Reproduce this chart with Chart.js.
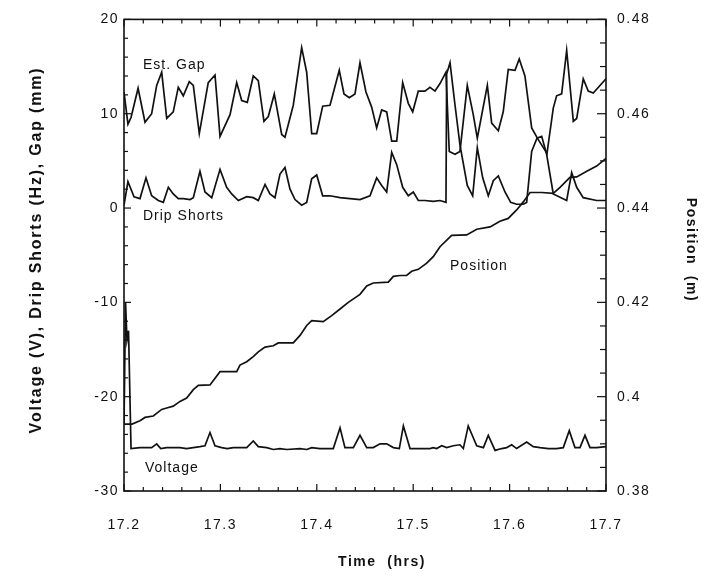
<!DOCTYPE html>
<html>
<head>
<meta charset="utf-8">
<script src="https://cdn.jsdelivr.net/npm/chart.js@4.4.1/dist/chart.umd.min.js"></script>
<style>
  body { margin: 0; background: #fff; }
  #wrap { width: 706px; height: 579px; }
</style>
</head>
<body>
<div id="wrap"><canvas id="chart" width="706" height="579"></canvas></div>
<script>
// values (time in hours)
const gapTime = [17.2000,17.2041,17.2073,17.2146,17.2218,17.2287,17.2339,17.2391,17.2443,17.2511,17.2563,17.2615,17.2677,17.2719,17.2781,17.2874,17.2944,17.2996,17.3100,17.3169,17.3221,17.3279,17.3341,17.3393,17.3452,17.3497,17.3559,17.3636,17.3670,17.3756,17.3843,17.3895,17.3947,17.3999,17.4061,17.4137,17.4233,17.4282,17.4337,17.4396,17.4448,17.4510,17.4569,17.4621,17.4673,17.4725,17.4777,17.4829,17.4891,17.4949,17.4995,17.5053,17.5122,17.5174,17.5226,17.5278,17.5340,17.5374,17.5434,17.5485,17.5561,17.5623,17.5665,17.5769,17.5814,17.5883,17.5934,17.5986,17.6056,17.6100,17.6159,17.6229,17.6294,17.6388,17.6453,17.6488,17.6540,17.6592,17.6661,17.6696,17.6764,17.6816,17.6868,17.7000];
const gapValue = [12.3,8.9,9.6,12.7,9.1,10.0,13.0,14.4,9.5,10.2,12.8,11.9,13.4,13.0,7.9,13.3,14.1,7.6,9.9,13.3,11.4,11.2,14.0,13.5,9.2,9.7,12.1,7.8,7.5,10.9,17.0,14.4,7.9,7.9,10.8,10.9,14.6,12.1,11.7,12.1,15.4,12.3,10.7,8.5,10.4,10.2,7.1,7.1,13.3,11.1,10.2,12.4,12.4,12.8,12.4,13.2,14.4,6.0,5.7,6.0,13.0,9.9,7.4,13.0,9.0,8.2,10.2,14.7,14.6,15.8,14.0,8.5,7.3,5.8,10.6,11.9,12.1,16.7,9.2,9.5,13.7,12.4,12.2,13.7];

const dripTime = [17.2000,17.2041,17.2104,17.2166,17.2228,17.2287,17.2356,17.2408,17.2460,17.2511,17.2563,17.2615,17.2685,17.2719,17.2788,17.2840,17.2910,17.2996,17.3065,17.3117,17.3186,17.3273,17.3341,17.3393,17.3463,17.3514,17.3566,17.3618,17.3670,17.3722,17.3774,17.3843,17.3895,17.3947,17.3999,17.4061,17.4137,17.4241,17.4344,17.4448,17.4552,17.4621,17.4673,17.4725,17.4777,17.4829,17.4891,17.4949,17.5001,17.5053,17.5122,17.5208,17.5278,17.5340,17.5347,17.5382,17.5434,17.5485,17.5561,17.5617,17.5665,17.5721,17.5779,17.5831,17.5883,17.5952,17.6011,17.6073,17.6142,17.6177,17.6229,17.6284,17.6333,17.6384,17.6453,17.6592,17.6644,17.6696,17.6764,17.6903,17.7000];
const dripValue = [0.3,2.8,1.2,1.0,3.2,1.3,0.8,0.6,2.2,1.5,1.0,1.0,0.9,1.1,3.9,1.7,1.1,4.1,2.2,1.5,0.8,1.2,1.1,0.8,2.5,1.5,1.1,3.6,4.3,2.0,0.9,0.3,0.6,3.1,3.5,1.3,1.3,1.1,1.0,0.9,1.3,3.2,2.4,1.7,5.9,4.6,2.2,1.3,1.7,0.8,0.8,0.7,0.8,0.6,14.2,15.4,10.9,6.7,2.4,1.3,6.4,3.2,1.3,2.9,3.4,1.7,0.6,0.4,0.4,0.6,6.0,7.4,7.6,5.7,1.5,0.8,3.75,2.2,1.1,0.8,0.8];

const positionTime = [17.2000,17.2083,17.2166,17.2218,17.2304,17.2391,17.2443,17.2511,17.2581,17.2650,17.2719,17.2771,17.2892,17.2996,17.3169,17.3203,17.3273,17.3341,17.3393,17.3463,17.3549,17.3601,17.3756,17.3826,17.3895,17.3947,17.4067,17.4154,17.4241,17.4327,17.4448,17.4518,17.4586,17.4742,17.4794,17.4863,17.4932,17.4984,17.5053,17.5140,17.5208,17.5278,17.5399,17.5555,17.5659,17.5797,17.5900,17.5986,17.6073,17.6142,17.6212,17.6333,17.6453,17.6523,17.6626,17.6696,17.6800,17.6903,17.7000];
const positionValue = [0.3942,0.3942,0.3949,0.3956,0.3959,0.3973,0.3976,0.3980,0.3990,0.3997,0.4015,0.4024,0.4025,0.4053,0.4053,0.4067,0.4074,0.4085,0.4095,0.4105,0.4108,0.4114,0.4114,0.4130,0.4151,0.4161,0.4159,0.4172,0.4186,0.4200,0.4217,0.4235,0.4241,0.4243,0.4255,0.4257,0.4257,0.4266,0.4270,0.4283,0.4297,0.4318,0.4342,0.4343,0.4355,0.4360,0.4372,0.4378,0.4396,0.4413,0.4433,0.4433,0.4431,0.4444,0.4465,0.4466,0.4478,0.4489,0.4505];

const voltageTime = [17.2000,17.2016,17.2031,17.2047,17.2073,17.2166,17.2287,17.2339,17.2381,17.2443,17.2511,17.2581,17.2650,17.2719,17.2788,17.2840,17.2892,17.2944,17.3013,17.3071,17.3134,17.3203,17.3273,17.3341,17.3393,17.3480,17.3549,17.3618,17.3688,17.3826,17.3895,17.3947,17.4033,17.4171,17.4241,17.4292,17.4379,17.4448,17.4518,17.4586,17.4656,17.4725,17.4794,17.4856,17.4898,17.4967,17.5174,17.5208,17.5243,17.5296,17.5347,17.5416,17.5485,17.5520,17.5571,17.5659,17.5728,17.5779,17.5849,17.5918,17.5970,17.6022,17.6073,17.6177,17.6246,17.6316,17.6402,17.6488,17.6557,17.6619,17.6678,17.6730,17.6782,17.6834,17.6903,17.7000];
const voltageValue = [-23,-10,-14,-13,-25.5,-25.4,-25.4,-25.0,-25.5,-25.4,-25.4,-25.4,-25.5,-25.4,-25.3,-25.2,-23.8,-25.2,-25.4,-25.5,-25.4,-25.4,-25.4,-24.7,-25.3,-25.4,-25.6,-25.5,-25.6,-25.5,-25.6,-25.4,-25.5,-25.5,-23.3,-25.4,-25.4,-24.1,-25.4,-25.4,-25.0,-25.0,-25.4,-25.5,-23.1,-25.5,-25.5,-25.4,-25.5,-25.2,-25.4,-25.2,-25.1,-25.5,-23.1,-25.2,-25.4,-24.1,-25.7,-25.5,-25.4,-25.1,-25.5,-24.8,-25.3,-25.4,-25.5,-25.5,-25.4,-23.6,-25.4,-25.4,-24.1,-25.4,-25.4,-25.3];

// axis ranges and tick steps
const timeRange = [17.2, 17.7];
const leftRange = [-30, 20];
const rightRange = [0.38, 0.48];
const timeStep = 0.1, timeMinor = 0.02;
const leftStep = 10, leftMinor = 2;
const rightStep = 0.02, rightMinor = 0.005;

// curve names written inside the plot
const curveLabels = [
  { text: 'Est. Gap', time: 17.2197, value: 15.2 },
  { text: 'Drip Shorts', time: 17.2197, value: -0.9 },
  { text: 'Position', time: 17.5382, value: -6.2 },
  { text: 'Voltage', time: 17.2218, value: -27.6 },
];

const xTitle = 'Time  (hrs)';
const yTitle = 'Voltage (V), Drip Shorts (Hz), Gap (mm)';
const y1Title = 'Position  (m)';

const INK = '#111';
const FONT = '"Liberation Sans", Arial, sans-serif';

const pts = (xs, ys) => xs.map((x, i) => ({ x, y: ys[i] }));
const line = (label, data, axis) => ({
  label, data, yAxisID: axis,
  borderColor: INK, borderWidth: 1.7,
  pointRadius: 0, tension: 0, fill: false,
});

// the old figure uses spaced-out lettering everywhere
const spacing = {
  id: 'spacing',
  beforeDraw(chart) { chart.ctx.letterSpacing = '1.5px'; },
};

// frame with inward ticks on all four sides, curve names and axis titles
const frameTicks = {
  id: 'frameTicks',
  afterDraw(chart) {
    const { ctx, chartArea: a, scales } = chart;
    ctx.save();
    ctx.strokeStyle = INK;
    ctx.lineWidth = 1.6;
    ctx.strokeRect(a.left, a.top, a.right - a.left, a.bottom - a.top);
    const seg = (x1, y1, x2, y2) => { ctx.beginPath(); ctx.moveTo(x1, y1); ctx.lineTo(x2, y2); ctx.stroke(); };
    ctx.lineWidth = 1.2;

    let n = Math.round((timeRange[1] - timeRange[0]) / timeMinor);
    for (let i = 0; i <= n; i++) {
      const x = scales.x.getPixelForValue(timeRange[0] + i * timeMinor);
      const len = i % Math.round(timeStep / timeMinor) === 0 ? 7 : 4;
      seg(x, a.bottom, x, a.bottom - len);
      seg(x, a.top, x, a.top + len);
    }
    n = Math.round((leftRange[1] - leftRange[0]) / leftMinor);
    for (let i = 0; i <= n; i++) {
      const y = scales.y.getPixelForValue(leftRange[0] + i * leftMinor);
      const len = i % Math.round(leftStep / leftMinor) === 0 ? 7 : 4;
      seg(a.left, y, a.left + len, y);
    }
    n = Math.round((rightRange[1] - rightRange[0]) / rightMinor);
    for (let i = 0; i <= n; i++) {
      const y = scales.y1.getPixelForValue(rightRange[0] + i * rightMinor);
      const len = i % Math.round(rightStep / rightMinor) === 0 ? 9 : 6;
      seg(a.right, y, a.right - len, y);
    }

    ctx.fillStyle = INK;
    ctx.textAlign = 'left';
    ctx.textBaseline = 'middle';
    ctx.letterSpacing = '1px';
    ctx.font = '14px ' + FONT;
    curveLabels.forEach(({ text, time, value }) => {
      ctx.fillText(text, scales.x.getPixelForValue(time), scales.y.getPixelForValue(value));
    });

    ctx.textAlign = 'center';
    ctx.letterSpacing = '1.5px';
    ctx.font = 'bold 14px ' + FONT;
    ctx.fillText(xTitle, 382, 562);

    ctx.save();
    ctx.translate(691, 250);
    ctx.rotate(Math.PI / 2);
    ctx.fillText(y1Title, 0, 0);
    ctx.restore();

    ctx.save();
    ctx.translate(37, 250);
    ctx.rotate(-Math.PI / 2);
    ctx.letterSpacing = '1.8px';
    ctx.font = 'bold 16px ' + FONT;
    ctx.fillText(yTitle, 0, 0);
    ctx.restore();

    ctx.restore();
  }
};

const tickFont = { family: FONT, size: 14 };

new Chart(document.getElementById('chart'), {
  type: 'line',
  data: {
    datasets: [
      line('Est. Gap', pts(gapTime, gapValue), 'y'),
      line('Drip Shorts', pts(dripTime, dripValue), 'y'),
      line('Voltage', pts(voltageTime, voltageValue), 'y'),
      line('Position', pts(positionTime, positionValue), 'y1'),
    ],
  },
  options: {
    responsive: false,
    animation: false,
    layout: { padding: { top: 13, left: 0, right: 0, bottom: 0 } },
    plugins: { legend: { display: false }, tooltip: { enabled: false } },
    scales: {
      x: {
        type: 'linear',
        min: timeRange[0], max: timeRange[1],
        grid: { display: false, drawTicks: false },
        border: { display: false },
        ticks: { stepSize: timeStep, padding: 26, color: INK, font: tickFont, maxRotation: 0,
                 callback: (v) => v.toFixed(1) },
        afterFit: (s) => { s.height = 88; },
      },
      y: {
        position: 'left',
        min: leftRange[0], max: leftRange[1],
        grid: { display: false, drawTicks: false },
        border: { display: false },
        ticks: { stepSize: leftStep, padding: 5, color: INK, font: tickFont, callback: (v) => String(v) },
        afterFit: (s) => { s.width = 124; },
      },
      y1: {
        position: 'right',
        min: rightRange[0], max: rightRange[1],
        grid: { display: false, drawTicks: false },
        border: { display: false },
        ticks: { stepSize: rightStep, padding: 11, color: INK, font: tickFont,
                 callback: (v) => String(+v.toFixed(2)) },
        afterFit: (s) => { s.width = 100; },
      },
    },
  },
  plugins: [spacing, frameTicks],
});
</script>
</body>
</html>
